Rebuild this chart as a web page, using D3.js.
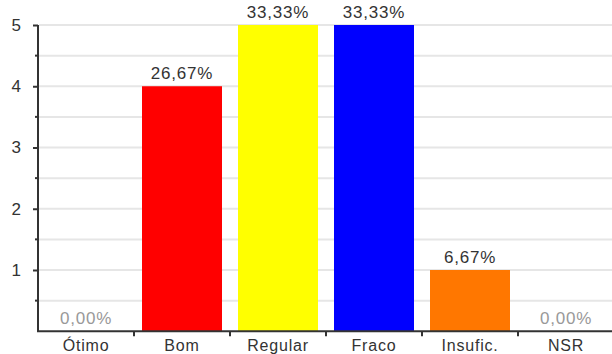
<!DOCTYPE html>
<html><head><meta charset="utf-8">
<script src="https://cdn.jsdelivr.net/npm/d3@7"></script>
<style>body{margin:0;background:#fff}svg{display:block}text{font-family:"Liberation Sans",Arial,sans-serif}</style>
</head><body><svg width="612" height="354"></svg>
<script>
const categories = ["Ótimo","Bom","Regular","Fraco","Insufic.","NSR"];
const values = [0,4,5,5,1,0];
const labels = ["0,00%","26,67%","33,33%","33,33%","6,67%","0,00%"];
const colors = ["#ff0000","#ff0000","#ffff00","#0000ff","#ff7700","#ff0000"];
const yTicks = [1,2,3,4,5];

const svg = d3.select("svg");
const x = d3.scaleBand().domain(categories).range([38,614]).paddingInner(0.1667).paddingOuter(0.0833);
const band = d3.scaleBand().domain(categories).range([38,614]);
const y = d3.scaleLinear().domain([0,5]).range([331.25,25]);

// grid
const halfTicks = d3.range(0.5,5.01,0.5);
svg.append("g").selectAll("line").data(halfTicks).join("line")
  .attr("x1",39).attr("x2",612).attr("y1",d=>y(d)).attr("y2",d=>y(d))
  .attr("stroke","#e6e6e6").attr("stroke-width",2);

// bars
svg.append("g").selectAll("rect").data(categories).join("rect")
  .attr("x",d=>x(d)).attr("width",x.bandwidth())
  .attr("y",(d,i)=>y(values[i])).attr("height",(d,i)=>y(0)-y(values[i]))
  .attr("fill",(d,i)=>colors[i]);

// value labels
svg.append("g").selectAll("text").data(categories).join("text")
  .attr("x",d=>x(d)+x.bandwidth()/2).attr("y",(d,i)=>y(values[i])-7)
  .attr("text-anchor","middle").attr("font-size",17).attr("letter-spacing",0.8)
  .attr("fill",(d,i)=>values[i]===0?"#999":"#333")
  .text((d,i)=>labels[i]);

// y axis
const ya = svg.append("g").attr("transform","translate(38,0)")
  .call(d3.axisLeft(y).tickValues(yTicks).tickSize(5).tickPadding(12).tickFormat(d3.format("d")));
ya.select(".domain").attr("d",`M0,${y(5)}V${y(0)}`).attr("stroke","#333").attr("stroke-width",2);
ya.selectAll(".tick line").attr("stroke","#333").attr("stroke-width",2);
ya.selectAll(".tick text").attr("font-size",17).attr("fill","#333").attr("font-family","Liberation Sans, Arial, sans-serif");
svg.append("g").selectAll("line").data(halfTicks.filter(d=>d%1!==0)).join("line")
  .attr("x1",35).attr("x2",38).attr("y1",d=>y(d)).attr("y2",d=>y(d)).attr("stroke","#333").attr("stroke-width",2);

// x axis
const xa = svg.append("g").attr("transform",`translate(0,${y(0)})`)
  .call(d3.axisBottom(band).tickSize(0).tickPadding(8));
xa.select(".domain").attr("d",`M37,0H612`).attr("stroke","#333").attr("stroke-width",2);
xa.selectAll(".tick text").attr("font-size",16).attr("letter-spacing",0.8).attr("fill","#333").attr("font-family","Liberation Sans, Arial, sans-serif");
svg.append("g").selectAll("line").data(categories.slice(1)).join("line")
  .attr("x1",d=>band(d)).attr("x2",d=>band(d)).attr("y1",y(0)).attr("y2",y(0)+5)
  .attr("stroke","#333").attr("stroke-width",2);
</script></body></html>
